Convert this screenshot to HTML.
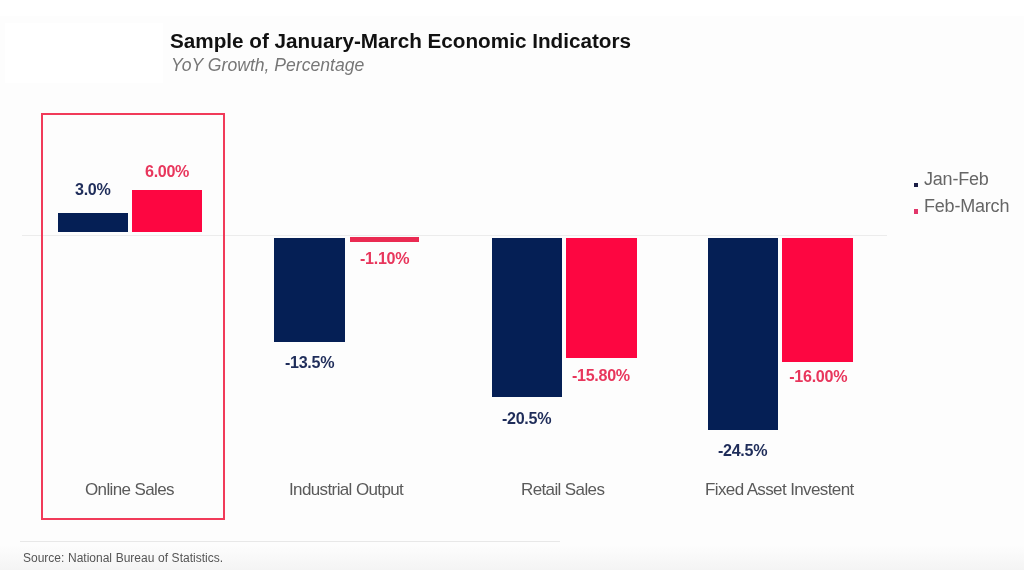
<!DOCTYPE html>
<html><head><meta charset="utf-8">
<style>
html,body{margin:0;padding:0;}
body{width:1024px;height:570px;overflow:hidden;background:#fdfdfd;font-family:"Liberation Sans",sans-serif;position:relative;}
.abs{position:absolute;}
.t{position:absolute;white-space:nowrap;line-height:1;filter:blur(0.4px);}
.navy{background:#051f55;}
.red{background:#fd0641;}
.lb{font-weight:bold;font-size:16.1px;letter-spacing:-0.3px;}
.ln{color:#1f2d5a;}
.lr{color:#e8365c;}
.cat{font-size:17px;color:#5a5a5a;letter-spacing:-0.62px;}
.leg{font-size:18px;color:#666;letter-spacing:-0.2px;}
</style></head><body>
<div class="abs" style="left:0;top:0;width:1024px;height:16px;background:#fff"></div>
<div class="abs" style="left:5px;top:23px;width:158px;height:60px;background:#fff"></div>
<div class="abs" style="left:0;top:545px;width:1024px;height:25px;background:linear-gradient(#fdfdfd,#f4f4f4)"></div>

<div class="t" id="title" style="left:170px;top:31px;font-size:20.7px;font-weight:bold;color:#111;">Sample of January-March Economic Indicators</div>
<div class="t" id="sub" style="left:171px;top:56.5px;font-size:17.6px;font-style:italic;color:#777;">YoY Growth, Percentage</div>

<!-- axis -->
<div class="abs" style="left:22px;top:235.3px;width:865px;height:1px;background:#ececec"></div>
<!-- highlight box -->
<div class="abs" style="left:41px;top:113.3px;width:180.4px;height:402.6px;border:2.3px solid #f13a59;"></div>

<!-- bars -->
<div class="abs navy" style="left:57.8px;top:213.3px;width:69.8px;height:19.2px"></div>
<div class="abs red"  style="left:132.3px;top:189.8px;width:70.2px;height:42.7px"></div>
<div class="abs navy" style="left:274px;top:238px;width:71px;height:103.6px"></div>
<div class="abs red"  style="left:350px;top:237px;width:69px;height:5px;background:#ea2a52"></div>
<div class="abs navy" style="left:492px;top:238px;width:70px;height:159px"></div>
<div class="abs red"  style="left:566px;top:238px;width:71px;height:120px"></div>
<div class="abs navy" style="left:708px;top:238px;width:70px;height:191.6px"></div>
<div class="abs red"  style="left:782.2px;top:238px;width:71px;height:124px"></div>

<!-- value labels -->
<div class="t lb ln" id="v1" style="left:75px;top:181px;">3.0%</div>
<div class="t lb lr" id="v2" style="left:145px;top:163.2px;">6.00%</div>
<div class="t lb ln" id="v3" style="left:285px;top:354px;">-13.5%</div>
<div class="t lb lr" id="v4" style="left:360px;top:249.5px;">-1.10%</div>
<div class="t lb ln" id="v5" style="left:502px;top:410px;">-20.5%</div>
<div class="t lb lr" id="v6" style="left:572px;top:366.5px;">-15.80%</div>
<div class="t lb ln" id="v7" style="left:718px;top:442px;">-24.5%</div>
<div class="t lb lr" id="v8" style="left:789.3px;top:368px;">-16.00%</div>

<!-- category labels -->
<div class="t cat" id="c1" style="left:85px;top:481px;">Online Sales</div>
<div class="t cat" id="c2" style="left:289px;top:481px;">Industrial Output</div>
<div class="t cat" id="c3" style="left:521px;top:481px;">Retail Sales</div>
<div class="t cat" id="c4" style="left:705px;top:481px;">Fixed Asset Investent</div>

<!-- legend -->
<div class="abs" style="left:913.7px;top:182.7px;width:4.4px;height:4.3px;background:#1a1d45;filter:blur(0.3px)"></div>
<div class="abs" style="left:913.5px;top:209px;width:4.6px;height:4.8px;background:#e2366a;filter:blur(0.3px)"></div>
<div class="t leg" id="l1" style="left:924px;top:170.2px;">Jan-Feb</div>
<div class="t leg" id="l2" style="left:924px;top:197px;">Feb-March</div>

<!-- footer -->
<div class="abs" style="left:20px;top:540.6px;width:540px;height:1px;background:#e8e8e8"></div>
<div class="t" id="src" style="left:23px;top:551.5px;font-size:12px;color:#555;word-spacing:0.3px;">Source: National Bureau of Statistics.</div>
</body></html>
